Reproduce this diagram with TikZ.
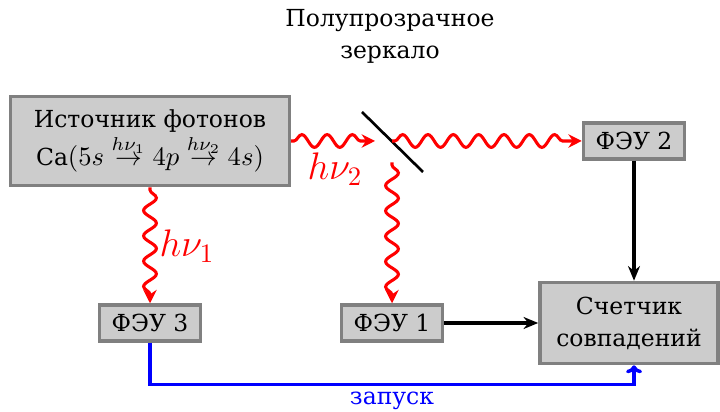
\documentclass[tikz,border=0pt]{standalone}
\usepackage{amsmath}
\usepackage{fontspec}
\setmainfont{DejaVu Serif}[Scale=0.88]
\usetikzlibrary{arrows.meta,decorations.pathmorphing}

\begin{document}
\begin{tikzpicture}[
    x=0.375pt, y=0.375pt,
    every node/.style={font=\normalsize},
    box/.style={draw=gray, line width=1.3pt, fill=black!20, align=center, inner sep=2pt},
    photon/.style={red, line width=1.15pt, -{Stealth[length=5pt,width=5pt]},
        decorate, decoration={snake, amplitude=2.4pt, segment length=9.5pt, pre length=1pt, post length=3pt}},
    flow/.style={-{Stealth[length=5.5pt,width=4.5pt]}, line width=1.3pt},
    trigger/.style={-{To[length=3pt,width=6pt]}, blue, line width=1.3pt}
]
\useasboundingbox (0,0) rectangle (720,412);
% nodes
\node[align=center] (title) at (390,376) {Полупрозрачное\\зеркало};
\node[box, minimum width=104.6pt, minimum height=33.4pt] (source) at (150,271)
    {Источник фотонов\\Ca$(5s \overset{h\nu_1}{\to} 4p \overset{h\nu_2}{\to} 4s)$};
\node[box, minimum width=37.9pt, minimum height=13.5pt] (pmt2) at (634,271) {ФЭУ 2};
\node[box, minimum width=37.9pt, minimum height=13.5pt] (pmt3) at (150,89) {ФЭУ 3};
\node[box, minimum width=37.9pt, minimum height=13.5pt] (pmt1) at (392,89) {ФЭУ 1};
\node[box, minimum width=66.8pt, minimum height=30.4pt] (counter) at (629,89) {Счетчик\\совпадений};
% mirror
\coordinate (mirror) at (392,271);
\coordinate (hit) at (375,271);
\draw[line width=1pt] (362,300) -- (423,240);
% photons
\draw[photon] (source.east) -- (hit);
\draw[photon] (mirror) -- (pmt2.west);
\draw[photon] ([yshift=-8]mirror) -- (pmt1.north);
\draw[photon] (source.south) -- (pmt3.north);
\node[red, font=\Large] (nu2) at (335,243) {$h\nu_2$};
\node[red, font=\Large] (nu1) at (187,166) {$h\nu_1$};
% electronics
\draw[flow] (pmt2.south) -- (pmt2.south |- counter.north);
\draw[flow] (pmt1.east) -- (counter.west);
\draw[trigger] (pmt3.south) -- ++(0,-42) -| (pmt2.south |- counter.south);
\node[blue] (start) at (392,11) {запуск};
\end{tikzpicture}
\end{document}
